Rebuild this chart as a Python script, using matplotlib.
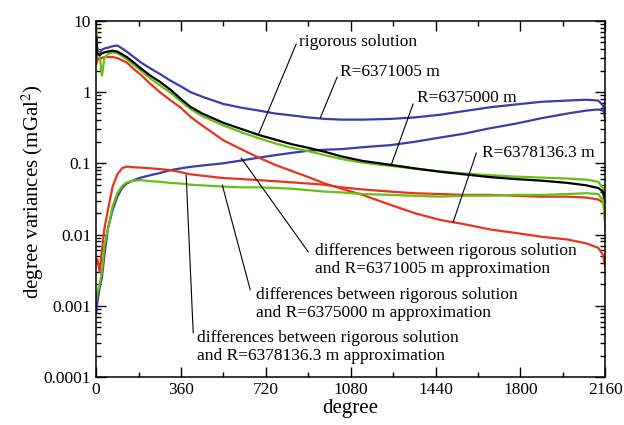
import numpy as np
import matplotlib
matplotlib.use("Agg")
import matplotlib.pyplot as plt
from matplotlib.ticker import FixedLocator, LogLocator, FuncFormatter, NullFormatter

plt.rcParams['font.family'] = ['Liberation Serif', 'DejaVu Serif']
plt.rcParams['mathtext.fontset'] = 'stix'

deg = [1, 5, 15, 25, 35, 50, 70, 90, 110, 130, 160, 190, 230, 270, 315, 360, 400,
       450, 540, 620, 690, 760, 830, 900, 970, 1040, 1130, 1250, 1350, 1460, 1560,
       1670, 1780, 1890, 2000, 2080, 2130, 2150, 2160]

rigorous = [6.0, 3.5, 3.3, 3.5, 3.6, 3.7, 3.8, 3.7, 3.4, 3.1, 2.6, 2.15, 1.7, 1.4, 1.08, 0.8, 0.62,
            0.5, 0.37, 0.3, 0.25, 0.215, 0.185, 0.165, 0.145, 0.125, 0.108, 0.095, 0.085, 0.076, 0.07,
            0.064, 0.06, 0.057, 0.053, 0.049, 0.045, 0.04, 0.03]
r6371005 = [3.0, 3.5, 3.6, 3.9, 4.1, 4.2, 4.4, 4.5, 4.1, 3.7, 3.1, 2.6, 2.15, 1.8, 1.45, 1.2, 1.0,
            0.86, 0.68, 0.6, 0.55, 0.5, 0.47, 0.44, 0.42, 0.41, 0.41, 0.42, 0.44, 0.48, 0.54,
            0.61, 0.67, 0.73, 0.76, 0.78, 0.76, 0.65, 0.4]
r6378136 = [8.0, 4.0, 3.2, 1.7, 3.0, 3.4, 3.6, 3.5, 3.2, 2.9, 2.4, 2.0, 1.55, 1.25, 0.98, 0.74, 0.58,
            0.46, 0.34, 0.27, 0.225, 0.19, 0.165, 0.148, 0.13, 0.115, 0.102, 0.092, 0.084, 0.077, 0.072,
            0.068, 0.065, 0.063, 0.061, 0.059, 0.055, 0.045, 0.012]
diff_6371005 = [2.5, 2.8, 3.0, 3.0, 3.1, 3.1, 3.1, 3.0, 2.8, 2.6, 2.1, 1.75, 1.3, 1.0, 0.77, 0.6, 0.45,
                0.34, 0.21, 0.155, 0.12, 0.095, 0.078, 0.064, 0.052, 0.044, 0.036, 0.026, 0.02, 0.016, 0.014,
                0.0118, 0.0105, 0.0093, 0.0085, 0.0075, 0.0065, 0.0052, 0.0035]
diff_6375000 = [0.0008, 0.0011, 0.0018, 0.0025, 0.005, 0.012, 0.022, 0.034, 0.045, 0.052, 0.058, 0.063,
                0.068, 0.073, 0.08, 0.085, 0.089, 0.093, 0.1, 0.11, 0.12, 0.13, 0.14, 0.15, 0.155, 0.158,
                0.168, 0.18, 0.2, 0.23, 0.26, 0.31, 0.36, 0.43, 0.5, 0.55, 0.57, 0.55, 0.5]
diff_flat_red = [0.004, 0.0045, 0.003, 0.006, 0.012, 0.022, 0.047, 0.07, 0.085, 0.09, 0.088, 0.087,
                 0.085, 0.083, 0.08, 0.075, 0.07, 0.067, 0.062, 0.06, 0.058, 0.056, 0.054, 0.052, 0.05,
                 0.046, 0.043, 0.04, 0.038, 0.037, 0.036, 0.036, 0.035, 0.034, 0.034, 0.033, 0.031, 0.028, 0.024]
diff_6378136 = [0.0012, 0.0015, 0.002, 0.003, 0.007, 0.012, 0.025, 0.038, 0.048, 0.054, 0.057, 0.058,
                0.056, 0.055, 0.053, 0.052, 0.05, 0.049, 0.047, 0.046, 0.046, 0.045, 0.044, 0.042, 0.04,
                0.039, 0.037, 0.036, 0.035, 0.034, 0.035, 0.035, 0.036, 0.036, 0.037, 0.038, 0.037, 0.03, 0.015]

blue = '#3c3ca8'
red = '#e8341e'
green = '#66c012'

fig = plt.figure(figsize=(6.24, 4.25), dpi=100)
ax = fig.add_axes([0.154, 0.113, 0.816, 0.838])

ax.plot(deg, r6371005, color=blue, lw=1.6)
ax.plot(deg, diff_6375000, color=blue, lw=1.6)
ax.plot(deg, diff_6371005, color=red, lw=1.6)
ax.plot(deg, diff_flat_red, color=red, lw=1.6)
ax.plot(deg, diff_6378136, color=green, lw=1.6)
ax.plot(deg, r6378136, color=green, lw=1.6)
ax.plot(deg, rigorous, color='black', lw=1.6)

ax.set_yscale('log')
ax.set_xlim(0, 2160)
ax.set_ylim(1e-4, 10)

ax.xaxis.set_major_locator(FixedLocator(np.arange(0, 2161, 360)))
ax.xaxis.set_minor_locator(FixedLocator(np.arange(180, 2160, 360)))
ax.yaxis.set_major_locator(LogLocator(base=10, numticks=10))
ax.yaxis.set_minor_locator(LogLocator(base=10, subs=np.arange(2, 10), numticks=10))
ax.yaxis.set_major_formatter(FuncFormatter(lambda v, p: ('%g' % v) if v >= 1e-3 else '0.0001'))
ax.yaxis.set_minor_formatter(NullFormatter())

ax.tick_params(which='both', direction='in', top=True, right=True, labelsize=12.5, width=1.0)
ax.tick_params(which='major', length=7)
ax.tick_params(which='minor', length=3.6)
for s in ax.spines.values():
    s.set_linewidth(1.1)

ax.set_xlabel('degree', fontsize=15, labelpad=1)
ax.set_ylabel('degree variances (mGal$^2$)', fontsize=15)
ax.yaxis.set_label_coords(-0.098, 0.52)

# curve labels with leader lines
top_labels = ["rigorous solution", "R=6371005 m", "R=6375000 m", "R=6378136.3 m"]
top_text = [(862, 5.0), (1036, 1.92), (1362, 0.83), (1638, 0.14)]
top_from = [(849, 4.75), (1023, 1.63), (1345, 0.683), (1613, 0.14)]
top_to = [(688, 0.25), (951, 0.434), (1252, 0.095), (1515, 0.015)]

diff_labels = ["differences between rigorous solution\nand R=6371005 m approximation",
               "differences between rigorous solution\nand R=6375000 m approximation",
               "differences between rigorous solution\nand R=6378136.3 m approximation"]
diff_text = [(930, 0.0044), (679, 0.00106), (429, 0.000264)]
diff_from = [(900, 0.0057), (654, 0.00167), (412, 0.000415)]
diff_to = [(615, 0.119), (535, 0.0498), (382, 0.0687)]

for lab, t, a, b in zip(top_labels + diff_labels, top_text + diff_text,
                        top_from + diff_from, top_to + diff_to):
    ax.text(t[0], t[1], lab, fontsize=12.5, ha='left', va='center', linespacing=1.1)
    ax.annotate('', xy=b, xytext=a,
                arrowprops=dict(arrowstyle='-', lw=0.8, color='black', shrinkA=0, shrinkB=0))

fig.savefig('out.png', dpi=100)
